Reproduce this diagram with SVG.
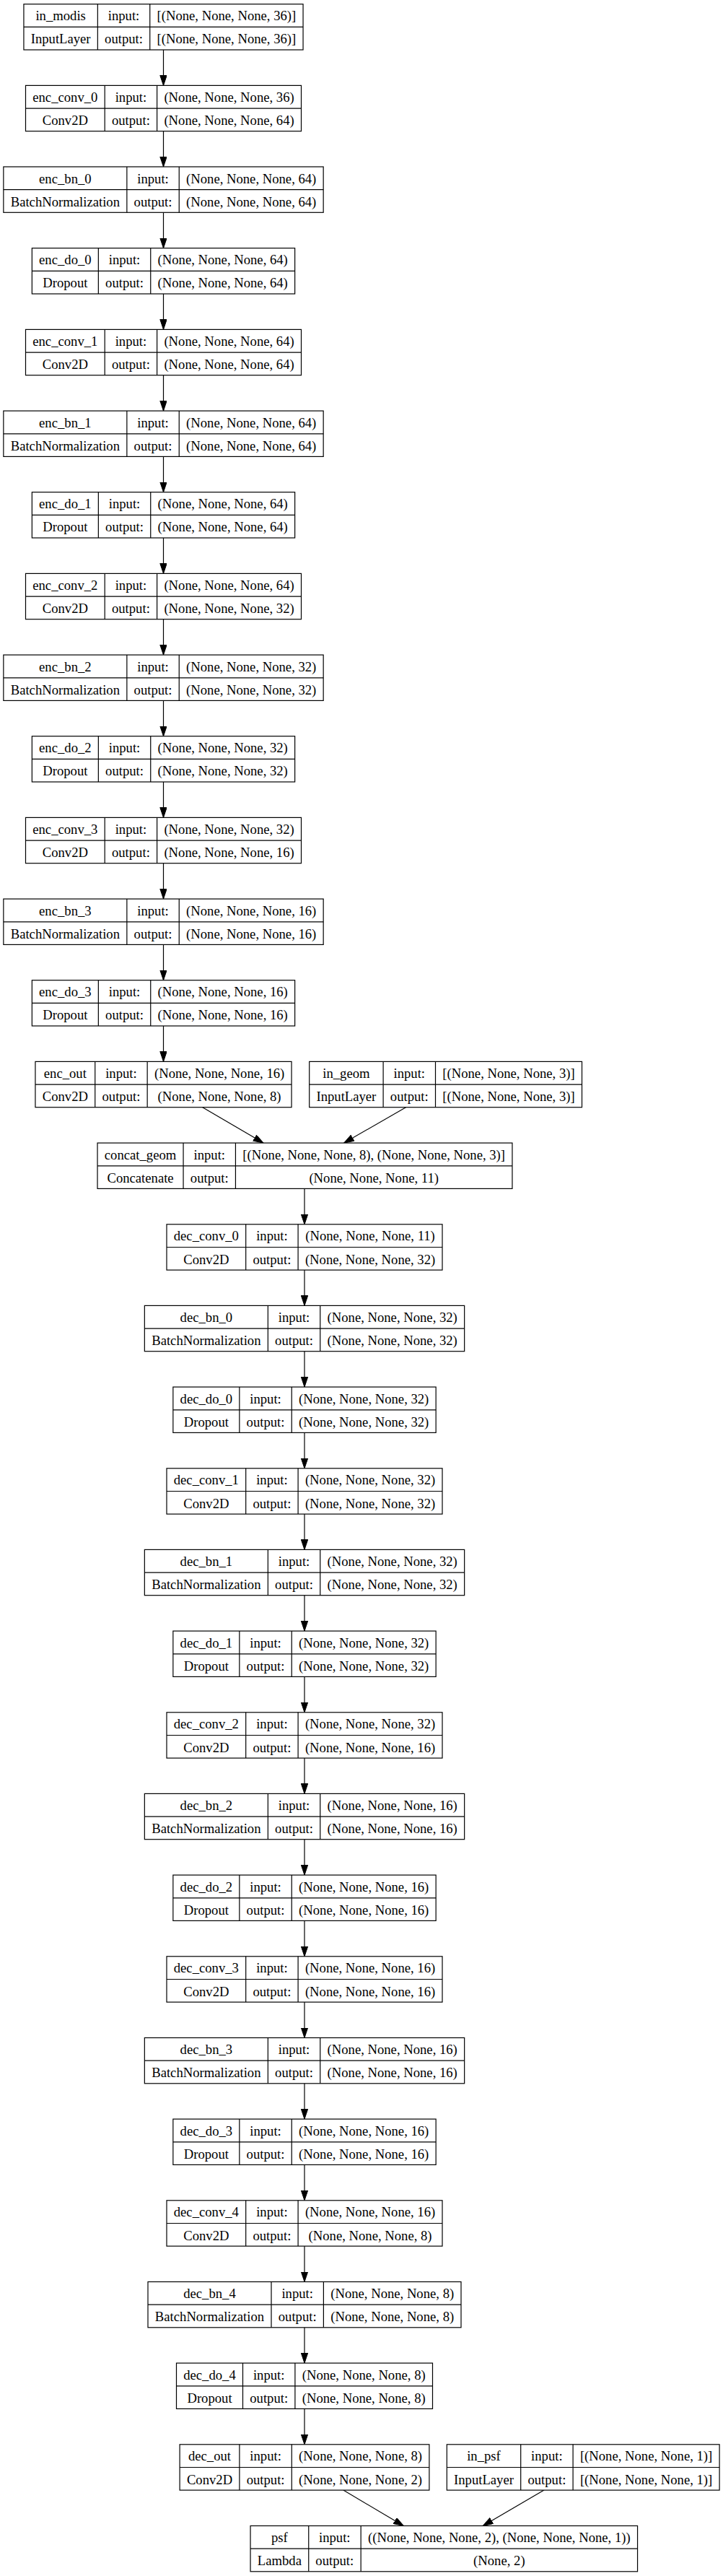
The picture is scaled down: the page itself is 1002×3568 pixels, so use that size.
<svg xmlns="http://www.w3.org/2000/svg" width="1002" height="3568" viewBox="0 0 1002 3568">
<style>
rect{fill:#fff;stroke:#000;stroke-width:1.2}
.n path{fill:none;stroke:#000;stroke-width:1.2}
text{font-family:"Liberation Serif","Times New Roman",serif;font-size:18.67px;fill:#000;text-anchor:middle}
#edges path{fill:none;stroke:#000;stroke-width:1.2;marker-end:url(#ah)}
</style>
<defs>
<marker id="ah" markerUnits="userSpaceOnUse" markerWidth="15" markerHeight="10" refX="14" refY="4.7" orient="auto"><path d="M0,0L14,4.7L0,9.4z" fill="#000" stroke="#000" stroke-width="1"/></marker>
</defs>
<rect x="0" y="0" width="1002" height="3568" style="stroke:none"/>
<g id="edges">
<path d="M226.5,69V118.4"/>
<path d="M226.5,181.7V231"/>
<path d="M226.5,294.3V343.7"/>
<path d="M226.5,407V456.4"/>
<path d="M226.5,519.7V569.1"/>
<path d="M226.5,632.4V681.7"/>
<path d="M226.5,745V794.4"/>
<path d="M226.5,857.7V907.1"/>
<path d="M226.5,970.4V1019.7"/>
<path d="M226.5,1083V1132.4"/>
<path d="M226.5,1195.7V1245.1"/>
<path d="M226.5,1308.4V1357.7"/>
<path d="M226.5,1421V1470.4"/>
<path d="M280.7,1533.7L365,1583.1"/>
<path d="M562.5,1533.7L476.7,1583.1"/>
<path d="M422,1646.4V1695.8"/>
<path d="M422,1759.1V1808.4"/>
<path d="M422,1871.7V1921.1"/>
<path d="M422,1984.4V2033.8"/>
<path d="M422,2097.1V2146.4"/>
<path d="M422,2209.7V2259.1"/>
<path d="M422,2322.4V2371.8"/>
<path d="M422,2435.1V2484.4"/>
<path d="M422,2547.7V2597.1"/>
<path d="M422,2660.4V2709.8"/>
<path d="M422,2773.1V2822.5"/>
<path d="M422,2885.8V2935.1"/>
<path d="M422,2998.4V3047.8"/>
<path d="M422,3111.1V3160.5"/>
<path d="M422,3223.8V3273.1"/>
<path d="M422,3336.4V3385.8"/>
<path d="M475.8,3449.1L559.3,3498.5"/>
<path d="M754,3449.1L669.3,3498.5"/>
</g>

<g id="in_modis" class="n" transform="translate(32.95,5.7)"><rect width="387.1" height="63.3"/><path d="M0,31.7H387.1M102.4,0V63.3M174.8,0V63.3"/><text x="51.2" y="22.6">in_modis</text><text x="51.2" y="54.8">InputLayer</text><text x="138.6" y="22.6">input:</text><text x="138.6" y="54.8">output:</text><text x="280.95" y="22.6">[(None, None, None, 36)]</text><text x="280.95" y="54.8">[(None, None, None, 36)]</text></g>

<g id="enc_conv_0" class="n" transform="translate(35.5,118.4)"><rect width="382" height="63.3"/><path d="M0,31.7H382M109.7,0V63.3M182.1,0V63.3"/><text x="54.85" y="22.6">enc_conv_0</text><text x="54.85" y="54.8">Conv2D</text><text x="145.9" y="22.6">input:</text><text x="145.9" y="54.8">output:</text><text x="282.05" y="22.6">(None, None, None, 36)</text><text x="282.05" y="54.8">(None, None, None, 64)</text></g>

<g id="enc_bn_0" class="n" transform="translate(4.85,231)"><rect width="443.3" height="63.3"/><path d="M0,31.7H443.3M171,0V63.3M243.4,0V63.3"/><text x="85.5" y="22.6">enc_bn_0</text><text x="85.5" y="54.8">BatchNormalization</text><text x="207.2" y="22.6">input:</text><text x="207.2" y="54.8">output:</text><text x="343.35" y="22.6">(None, None, None, 64)</text><text x="343.35" y="54.8">(None, None, None, 64)</text></g>

<g id="enc_do_0" class="n" transform="translate(44.35,343.7)"><rect width="364.3" height="63.3"/><path d="M0,31.7H364.3M92,0V63.3M164.4,0V63.3"/><text x="46" y="22.6">enc_do_0</text><text x="46" y="54.8">Dropout</text><text x="128.2" y="22.6">input:</text><text x="128.2" y="54.8">output:</text><text x="264.35" y="22.6">(None, None, None, 64)</text><text x="264.35" y="54.8">(None, None, None, 64)</text></g>

<g id="enc_conv_1" class="n" transform="translate(35.5,456.4)"><rect width="382" height="63.3"/><path d="M0,31.7H382M109.7,0V63.3M182.1,0V63.3"/><text x="54.85" y="22.6">enc_conv_1</text><text x="54.85" y="54.8">Conv2D</text><text x="145.9" y="22.6">input:</text><text x="145.9" y="54.8">output:</text><text x="282.05" y="22.6">(None, None, None, 64)</text><text x="282.05" y="54.8">(None, None, None, 64)</text></g>

<g id="enc_bn_1" class="n" transform="translate(4.85,569.1)"><rect width="443.3" height="63.3"/><path d="M0,31.7H443.3M171,0V63.3M243.4,0V63.3"/><text x="85.5" y="22.6">enc_bn_1</text><text x="85.5" y="54.8">BatchNormalization</text><text x="207.2" y="22.6">input:</text><text x="207.2" y="54.8">output:</text><text x="343.35" y="22.6">(None, None, None, 64)</text><text x="343.35" y="54.8">(None, None, None, 64)</text></g>

<g id="enc_do_1" class="n" transform="translate(44.35,681.7)"><rect width="364.3" height="63.3"/><path d="M0,31.7H364.3M92,0V63.3M164.4,0V63.3"/><text x="46" y="22.6">enc_do_1</text><text x="46" y="54.8">Dropout</text><text x="128.2" y="22.6">input:</text><text x="128.2" y="54.8">output:</text><text x="264.35" y="22.6">(None, None, None, 64)</text><text x="264.35" y="54.8">(None, None, None, 64)</text></g>

<g id="enc_conv_2" class="n" transform="translate(35.5,794.4)"><rect width="382" height="63.3"/><path d="M0,31.7H382M109.7,0V63.3M182.1,0V63.3"/><text x="54.85" y="22.6">enc_conv_2</text><text x="54.85" y="54.8">Conv2D</text><text x="145.9" y="22.6">input:</text><text x="145.9" y="54.8">output:</text><text x="282.05" y="22.6">(None, None, None, 64)</text><text x="282.05" y="54.8">(None, None, None, 32)</text></g>

<g id="enc_bn_2" class="n" transform="translate(4.85,907.1)"><rect width="443.3" height="63.3"/><path d="M0,31.7H443.3M171,0V63.3M243.4,0V63.3"/><text x="85.5" y="22.6">enc_bn_2</text><text x="85.5" y="54.8">BatchNormalization</text><text x="207.2" y="22.6">input:</text><text x="207.2" y="54.8">output:</text><text x="343.35" y="22.6">(None, None, None, 32)</text><text x="343.35" y="54.8">(None, None, None, 32)</text></g>

<g id="enc_do_2" class="n" transform="translate(44.35,1019.7)"><rect width="364.3" height="63.3"/><path d="M0,31.7H364.3M92,0V63.3M164.4,0V63.3"/><text x="46" y="22.6">enc_do_2</text><text x="46" y="54.8">Dropout</text><text x="128.2" y="22.6">input:</text><text x="128.2" y="54.8">output:</text><text x="264.35" y="22.6">(None, None, None, 32)</text><text x="264.35" y="54.8">(None, None, None, 32)</text></g>

<g id="enc_conv_3" class="n" transform="translate(35.5,1132.4)"><rect width="382" height="63.3"/><path d="M0,31.7H382M109.7,0V63.3M182.1,0V63.3"/><text x="54.85" y="22.6">enc_conv_3</text><text x="54.85" y="54.8">Conv2D</text><text x="145.9" y="22.6">input:</text><text x="145.9" y="54.8">output:</text><text x="282.05" y="22.6">(None, None, None, 32)</text><text x="282.05" y="54.8">(None, None, None, 16)</text></g>

<g id="enc_bn_3" class="n" transform="translate(4.85,1245.1)"><rect width="443.3" height="63.3"/><path d="M0,31.7H443.3M171,0V63.3M243.4,0V63.3"/><text x="85.5" y="22.6">enc_bn_3</text><text x="85.5" y="54.8">BatchNormalization</text><text x="207.2" y="22.6">input:</text><text x="207.2" y="54.8">output:</text><text x="343.35" y="22.6">(None, None, None, 16)</text><text x="343.35" y="54.8">(None, None, None, 16)</text></g>

<g id="enc_do_3" class="n" transform="translate(44.35,1357.7)"><rect width="364.3" height="63.3"/><path d="M0,31.7H364.3M92,0V63.3M164.4,0V63.3"/><text x="46" y="22.6">enc_do_3</text><text x="46" y="54.8">Dropout</text><text x="128.2" y="22.6">input:</text><text x="128.2" y="54.8">output:</text><text x="264.35" y="22.6">(None, None, None, 16)</text><text x="264.35" y="54.8">(None, None, None, 16)</text></g>

<g id="enc_out" class="n" transform="translate(48.95,1470.4)"><rect width="355.1" height="63.3"/><path d="M0,31.7H355.1M82.8,0V63.3M155.2,0V63.3"/><text x="41.4" y="22.6">enc_out</text><text x="41.4" y="54.8">Conv2D</text><text x="119" y="22.6">input:</text><text x="119" y="54.8">output:</text><text x="255.15" y="22.6">(None, None, None, 16)</text><text x="255.15" y="54.8">(None, None, None, 8)</text></g>

<g id="in_geom" class="n" transform="translate(428.7,1470.4)"><rect width="377.8" height="63.3"/><path d="M0,31.7H377.8M102.4,0V63.3M174.8,0V63.3"/><text x="51.2" y="22.6">in_geom</text><text x="51.2" y="54.8">InputLayer</text><text x="138.6" y="22.6">input:</text><text x="138.6" y="54.8">output:</text><text x="276.3" y="22.6">[(None, None, None, 3)]</text><text x="276.3" y="54.8">[(None, None, None, 3)]</text></g>

<g id="concat_geom" class="n" transform="translate(135.05,1583.1)"><rect width="574.9" height="63.3"/><path d="M0,31.7H574.9M119,0V63.3M191.4,0V63.3"/><text x="59.5" y="22.6">concat_geom</text><text x="59.5" y="54.8">Concatenate</text><text x="155.2" y="22.6">input:</text><text x="155.2" y="54.8">output:</text><text x="383.15" y="22.6">[(None, None, None, 8), (None, None, None, 3)]</text><text x="383.15" y="54.8">(None, None, None, 11)</text></g>

<g id="dec_conv_0" class="n" transform="translate(231,1695.8)"><rect width="382" height="63.3"/><path d="M0,31.7H382M109.7,0V63.3M182.1,0V63.3"/><text x="54.85" y="22.6">dec_conv_0</text><text x="54.85" y="54.8">Conv2D</text><text x="145.9" y="22.6">input:</text><text x="145.9" y="54.8">output:</text><text x="282.05" y="22.6">(None, None, None, 11)</text><text x="282.05" y="54.8">(None, None, None, 32)</text></g>

<g id="dec_bn_0" class="n" transform="translate(200.35,1808.4)"><rect width="443.3" height="63.3"/><path d="M0,31.7H443.3M171,0V63.3M243.4,0V63.3"/><text x="85.5" y="22.6">dec_bn_0</text><text x="85.5" y="54.8">BatchNormalization</text><text x="207.2" y="22.6">input:</text><text x="207.2" y="54.8">output:</text><text x="343.35" y="22.6">(None, None, None, 32)</text><text x="343.35" y="54.8">(None, None, None, 32)</text></g>

<g id="dec_do_0" class="n" transform="translate(239.85,1921.1)"><rect width="364.3" height="63.3"/><path d="M0,31.7H364.3M92,0V63.3M164.4,0V63.3"/><text x="46" y="22.6">dec_do_0</text><text x="46" y="54.8">Dropout</text><text x="128.2" y="22.6">input:</text><text x="128.2" y="54.8">output:</text><text x="264.35" y="22.6">(None, None, None, 32)</text><text x="264.35" y="54.8">(None, None, None, 32)</text></g>

<g id="dec_conv_1" class="n" transform="translate(231,2033.8)"><rect width="382" height="63.3"/><path d="M0,31.7H382M109.7,0V63.3M182.1,0V63.3"/><text x="54.85" y="22.6">dec_conv_1</text><text x="54.85" y="54.8">Conv2D</text><text x="145.9" y="22.6">input:</text><text x="145.9" y="54.8">output:</text><text x="282.05" y="22.6">(None, None, None, 32)</text><text x="282.05" y="54.8">(None, None, None, 32)</text></g>

<g id="dec_bn_1" class="n" transform="translate(200.35,2146.4)"><rect width="443.3" height="63.3"/><path d="M0,31.7H443.3M171,0V63.3M243.4,0V63.3"/><text x="85.5" y="22.6">dec_bn_1</text><text x="85.5" y="54.8">BatchNormalization</text><text x="207.2" y="22.6">input:</text><text x="207.2" y="54.8">output:</text><text x="343.35" y="22.6">(None, None, None, 32)</text><text x="343.35" y="54.8">(None, None, None, 32)</text></g>

<g id="dec_do_1" class="n" transform="translate(239.85,2259.1)"><rect width="364.3" height="63.3"/><path d="M0,31.7H364.3M92,0V63.3M164.4,0V63.3"/><text x="46" y="22.6">dec_do_1</text><text x="46" y="54.8">Dropout</text><text x="128.2" y="22.6">input:</text><text x="128.2" y="54.8">output:</text><text x="264.35" y="22.6">(None, None, None, 32)</text><text x="264.35" y="54.8">(None, None, None, 32)</text></g>

<g id="dec_conv_2" class="n" transform="translate(231,2371.8)"><rect width="382" height="63.3"/><path d="M0,31.7H382M109.7,0V63.3M182.1,0V63.3"/><text x="54.85" y="22.6">dec_conv_2</text><text x="54.85" y="54.8">Conv2D</text><text x="145.9" y="22.6">input:</text><text x="145.9" y="54.8">output:</text><text x="282.05" y="22.6">(None, None, None, 32)</text><text x="282.05" y="54.8">(None, None, None, 16)</text></g>

<g id="dec_bn_2" class="n" transform="translate(200.35,2484.4)"><rect width="443.3" height="63.3"/><path d="M0,31.7H443.3M171,0V63.3M243.4,0V63.3"/><text x="85.5" y="22.6">dec_bn_2</text><text x="85.5" y="54.8">BatchNormalization</text><text x="207.2" y="22.6">input:</text><text x="207.2" y="54.8">output:</text><text x="343.35" y="22.6">(None, None, None, 16)</text><text x="343.35" y="54.8">(None, None, None, 16)</text></g>

<g id="dec_do_2" class="n" transform="translate(239.85,2597.1)"><rect width="364.3" height="63.3"/><path d="M0,31.7H364.3M92,0V63.3M164.4,0V63.3"/><text x="46" y="22.6">dec_do_2</text><text x="46" y="54.8">Dropout</text><text x="128.2" y="22.6">input:</text><text x="128.2" y="54.8">output:</text><text x="264.35" y="22.6">(None, None, None, 16)</text><text x="264.35" y="54.8">(None, None, None, 16)</text></g>

<g id="dec_conv_3" class="n" transform="translate(231,2709.8)"><rect width="382" height="63.3"/><path d="M0,31.7H382M109.7,0V63.3M182.1,0V63.3"/><text x="54.85" y="22.6">dec_conv_3</text><text x="54.85" y="54.8">Conv2D</text><text x="145.9" y="22.6">input:</text><text x="145.9" y="54.8">output:</text><text x="282.05" y="22.6">(None, None, None, 16)</text><text x="282.05" y="54.8">(None, None, None, 16)</text></g>

<g id="dec_bn_3" class="n" transform="translate(200.35,2822.5)"><rect width="443.3" height="63.3"/><path d="M0,31.7H443.3M171,0V63.3M243.4,0V63.3"/><text x="85.5" y="22.6">dec_bn_3</text><text x="85.5" y="54.8">BatchNormalization</text><text x="207.2" y="22.6">input:</text><text x="207.2" y="54.8">output:</text><text x="343.35" y="22.6">(None, None, None, 16)</text><text x="343.35" y="54.8">(None, None, None, 16)</text></g>

<g id="dec_do_3" class="n" transform="translate(239.85,2935.1)"><rect width="364.3" height="63.3"/><path d="M0,31.7H364.3M92,0V63.3M164.4,0V63.3"/><text x="46" y="22.6">dec_do_3</text><text x="46" y="54.8">Dropout</text><text x="128.2" y="22.6">input:</text><text x="128.2" y="54.8">output:</text><text x="264.35" y="22.6">(None, None, None, 16)</text><text x="264.35" y="54.8">(None, None, None, 16)</text></g>

<g id="dec_conv_4" class="n" transform="translate(231,3047.8)"><rect width="382" height="63.3"/><path d="M0,31.7H382M109.7,0V63.3M182.1,0V63.3"/><text x="54.85" y="22.6">dec_conv_4</text><text x="54.85" y="54.8">Conv2D</text><text x="145.9" y="22.6">input:</text><text x="145.9" y="54.8">output:</text><text x="282.05" y="22.6">(None, None, None, 16)</text><text x="282.05" y="54.8">(None, None, None, 8)</text></g>

<g id="dec_bn_4" class="n" transform="translate(205,3160.5)"><rect width="434" height="63.3"/><path d="M0,31.7H434M171,0V63.3M243.4,0V63.3"/><text x="85.5" y="22.6">dec_bn_4</text><text x="85.5" y="54.8">BatchNormalization</text><text x="207.2" y="22.6">input:</text><text x="207.2" y="54.8">output:</text><text x="338.7" y="22.6">(None, None, None, 8)</text><text x="338.7" y="54.8">(None, None, None, 8)</text></g>

<g id="dec_do_4" class="n" transform="translate(244.5,3273.1)"><rect width="355" height="63.3"/><path d="M0,31.7H355M92,0V63.3M164.4,0V63.3"/><text x="46" y="22.6">dec_do_4</text><text x="46" y="54.8">Dropout</text><text x="128.2" y="22.6">input:</text><text x="128.2" y="54.8">output:</text><text x="259.7" y="22.6">(None, None, None, 8)</text><text x="259.7" y="54.8">(None, None, None, 8)</text></g>

<g id="dec_out" class="n" transform="translate(249.1,3385.8)"><rect width="345.8" height="63.3"/><path d="M0,31.7H345.8M82.8,0V63.3M155.2,0V63.3"/><text x="41.4" y="22.6">dec_out</text><text x="41.4" y="54.8">Conv2D</text><text x="119" y="22.6">input:</text><text x="119" y="54.8">output:</text><text x="250.5" y="22.6">(None, None, None, 8)</text><text x="250.5" y="54.8">(None, None, None, 2)</text></g>

<g id="in_psf" class="n" transform="translate(619.3,3385.8)"><rect width="377.8" height="63.3"/><path d="M0,31.7H377.8M102.4,0V63.3M174.8,0V63.3"/><text x="51.2" y="22.6">in_psf</text><text x="51.2" y="54.8">InputLayer</text><text x="138.6" y="22.6">input:</text><text x="138.6" y="54.8">output:</text><text x="276.3" y="22.6">[(None, None, None, 1)]</text><text x="276.3" y="54.8">[(None, None, None, 1)]</text></g>

<g id="psf" class="n" transform="translate(347.05,3498.5)"><rect width="536.5" height="63.3"/><path d="M0,31.7H536.5M80.7,0V63.3M153.1,0V63.3"/><text x="40.35" y="22.6">psf</text><text x="40.35" y="54.8">Lambda</text><text x="116.75" y="22.6">input:</text><text x="116.75" y="54.8">output:</text><text x="344.8" y="22.6">((None, None, None, 2), (None, None, None, 1))</text><text x="344.8" y="54.8">(None, 2)</text></g>
</svg>
